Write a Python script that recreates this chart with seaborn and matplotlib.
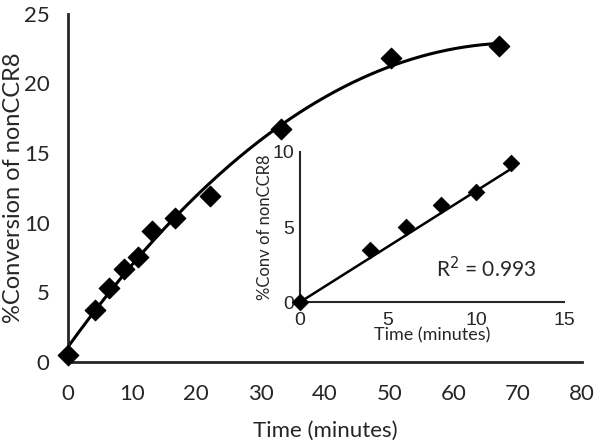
import seaborn as sns
import pandas as pd
import numpy as np
import matplotlib.pyplot as plt
from matplotlib.ticker import MultipleLocator, ScalarFormatter

# main data: time (minutes) vs % conversion
time_min = [0, 4.3, 6.4, 8.8, 10.9, 13.1, 16.7, 22.1, 33.2, 50.3, 67.1]
conversion = [0.5, 3.7, 5.3, 6.7, 7.5, 9.4, 10.3, 11.9, 16.7, 21.8, 22.7]

# inset data: early time points
inset_time = [0, 4, 6, 8, 10, 12]
inset_conv = [0, 3.45, 5.0, 6.45, 7.35, 9.25]
inset_fit_slope = 0.74
r2_label = "R$^2$ = 0.993"

sns.set_style("white")
plt.rcParams['font.family'] = ['Lato', 'DejaVu Sans']

fig = plt.figure(figsize=(6, 4.43), dpi=100)
ax = fig.add_axes([0.113, 0.183, 0.857, 0.786])

# smooth trend line through main data
coef = np.polyfit(time_min, conversion, 3)
xs = np.linspace(0, max(time_min), 200)
curve = pd.DataFrame({'x': xs, 'y': np.polyval(coef, xs)})
sns.lineplot(data=curve, x='x', y='y', ax=ax, color='black', linewidth=2.2)

df = pd.DataFrame({'t': time_min, 'c': conversion})
sns.scatterplot(data=df, x='t', y='c', ax=ax, marker='D', s=110, color='black',
                edgecolor='black', zorder=5, clip_on=False)

ax.set_xlim(0, 80)
ax.set_ylim(0, 25)
ax.xaxis.set_major_locator(MultipleLocator(20))
ax.xaxis.set_minor_locator(MultipleLocator(10))
ax.xaxis.set_minor_formatter(ScalarFormatter())
ax.yaxis.set_major_locator(MultipleLocator(5))
ax.yaxis.set_minor_locator(MultipleLocator(2.5))
ax.tick_params(axis='x', which='major', length=10, width=2, pad=6, labelsize=16)
ax.tick_params(axis='x', which='minor', length=6, width=2, pad=10, labelsize=16)
ax.tick_params(axis='y', which='major', length=10, width=2, pad=3, labelsize=16)
ax.tick_params(axis='y', which='minor', length=6, width=2)
for s in ['top', 'right']:
    ax.spines[s].set_visible(False)
for s in ['left', 'bottom']:
    ax.spines[s].set_linewidth(2)
ax.set_xlabel("Time (minutes)", fontsize=16, labelpad=12)
ax.set_ylabel("%Conversion of nonCCR8", fontsize=17, labelpad=0)

# inset
ins = fig.add_axes([0.5, 0.318, 0.44, 0.339])
xf = np.array([0, max(inset_time)])
fit = pd.DataFrame({'x': xf, 'y': inset_fit_slope * xf})
sns.lineplot(data=fit, x='x', y='y', ax=ins, color='black', linewidth=1.8)
dfi = pd.DataFrame({'t': inset_time, 'c': inset_conv})
sns.scatterplot(data=dfi, x='t', y='c', ax=ins, marker='D', s=70, color='black',
                edgecolor='black', zorder=5, clip_on=False)
ins.set_xlim(0, 15)
ins.set_ylim(0, 10)
ins.set_xticks([0, 5, 10, 15])
ins.set_yticks([0, 5, 10])
ins.patch.set_alpha(0)
for s in ['top', 'right']:
    ins.spines[s].set_visible(False)
for s in ['left', 'bottom']:
    ins.spines[s].set_linewidth(1.5)
ins.tick_params(axis='both', length=3, width=1.5, labelsize=14)
ins.tick_params(axis='x', pad=4)
ins.tick_params(axis='y', pad=1)
for lab in ins.get_xticklabels() + ins.get_yticklabels():
    lab.set_family(['Liberation Sans', 'DejaVu Sans'])
ins.set_xlabel("Time (minutes)", fontsize=13, labelpad=-1)
ins.set_ylabel("%Conv of nonCCR8", fontsize=12, labelpad=0)
ins.text(10.6, 2.2, r2_label, fontsize=15, ha='center', va='center')

fig.savefig("out.png", dpi=100)
